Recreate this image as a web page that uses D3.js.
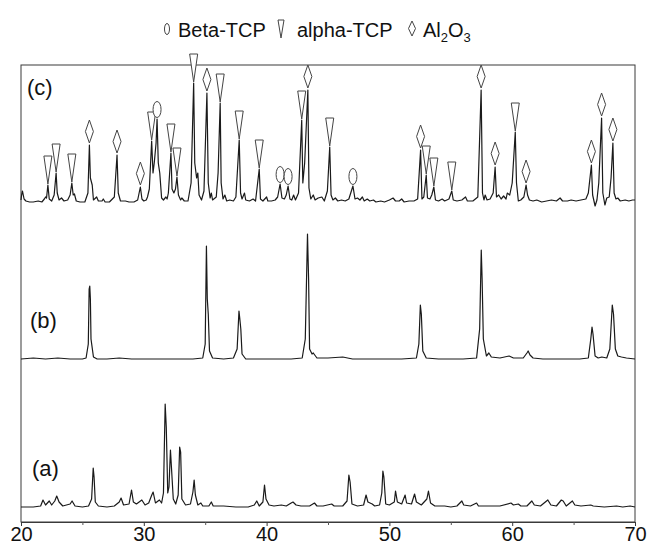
<!DOCTYPE html>
<html><head><meta charset="utf-8">
<script src="https://cdn.jsdelivr.net/npm/d3@7"></script>
<style>body{margin:0;background:#fff}</style>
</head><body>
<svg id="chart" width="651" height="549"></svg>
<script>
// ---------- data ----------
const xTicks = [20, 30, 40, 50, 60, 70];
const xMinorTicks = [25, 35, 45, 55, 65];
const traceLabels = ["(a)", "(b)", "(c)"];
const legendLabels = ["Beta-TCP", "alpha-TCP", "Al2O3"];

// trace (a) : [2theta, intensity a.u.]
const traceA = [[20,0],[21,0],[21.6,1],[21.79,7],[22.0,2],[22.3,6],[22.5,2],[22.75,6],[22.91,11],[23.1,5],[23.4,1],[24.0,3],[24.16,6],[24.4,1],[25.0,0],[25.5,1],[25.75,8],[25.88,39],[25.95,30],[26.05,5],[26.3,1],[27,0],[27.6,1],[28.0,5],[28.15,9],[28.35,2],[28.8,3],[29.0,17],[29.15,5],[29.4,3],[29.84,7],[30.1,2],[30.4,4],[30.65,12],[30.76,15],[30.95,4],[31.27,7],[31.45,4],[31.6,14],[31.74,103],[31.83,80],[31.95,14],[32.05,20],[32.17,57],[32.25,40],[32.4,8],[32.6,3],[32.8,12],[32.92,60],[33.0,55],[33.1,8],[33.4,2],[33.8,3],[34.0,15],[34.1,27],[34.2,12],[34.4,2],[34.65,4],[34.8,1],[35.3,1],[35.5,5],[35.65,1],[36.5,1],[37.5,0],[38.5,0],[39.0,2],[39.2,6],[39.4,1],[39.7,5],[39.83,22],[39.95,8],[40.2,2],[40.6,1],[41.2,2],[41.6,1],[42.0,4],[42.15,5],[42.4,2],[42.8,1],[43.5,1],[43.9,4],[44.1,1],[44.6,1],[45.3,3],[45.5,1],[46.2,1],[46.55,6],[46.7,32],[46.8,25],[46.95,3],[47.4,1],[47.9,2],[48.1,12],[48.25,5],[48.6,3],[48.8,1],[49.2,2],[49.38,14],[49.47,36],[49.55,30],[49.7,3],[50.0,2],[50.4,5],[50.5,16],[50.65,5],[51.0,3],[51.28,12],[51.4,4],[51.8,3],[52.05,13],[52.2,5],[52.6,2],[53.05,8],[53.18,16],[53.35,4],[53.7,1],[54.5,1],[55.0,0],[55.5,1],[55.9,6],[56.05,2],[56.6,1],[57.1,4],[57.25,1],[58,1],[59,1],[59.9,4],[60.1,2],[60.5,3],[60.7,1],[61.2,1],[61.6,6],[61.8,2],[62.3,1],[62.9,7],[63.15,2],[63.6,1],[64.0,7],[64.15,6],[64.4,1],[64.9,6],[65.1,2],[65.6,1],[66.4,2],[66.6,1],[67.5,0],[68.5,1],[69.0,0],[69.6,1],[70,0]];

// trace (b)
const traceB = [[20,0],[21,1],[22,0],[23,1],[24,0],[25,0],[25.3,1],[25.48,15],[25.55,70],[25.6,73],[25.65,60],[25.7,20],[25.9,2],[26.2,0],[27,0],[28,1],[29,0],[30,0],[31,0],[32,0],[33,0],[34,0],[34.8,1],[35.0,15],[35.1,113],[35.17,60],[35.25,45],[35.35,8],[35.6,1],[36.5,0],[37.3,1],[37.6,10],[37.75,48],[37.82,40],[37.9,30],[38.0,5],[38.3,0],[39,0],[40,0],[41,0],[42,0],[42.9,1],[43.15,20],[43.33,125],[43.42,80],[43.5,10],[43.7,5],[43.8,6],[44.1,1],[45,1],[46.2,2],[47,0],[48,0],[49,0],[50,0],[51,0],[52.2,1],[52.4,15],[52.52,54],[52.6,45],[52.72,8],[53,1],[54,0],[55,0],[56,0],[57.1,1],[57.35,30],[57.48,109],[57.55,80],[57.65,20],[57.9,3],[58.1,6],[58.3,2],[59,1],[59.75,3],[60.1,1],[60.9,1],[61.2,6],[61.3,8],[61.45,4],[61.7,1],[62.5,0],[63.5,0],[64.5,0],[65.5,0],[66.2,1],[66.4,20],[66.5,32],[66.58,25],[66.75,3],[67,1],[67.3,2],[67.7,1],[67.95,10],[68.15,54],[68.25,45],[68.4,10],[68.6,3],[68.9,2],[69.3,1],[70,0]];

// trace (c)
const traceC = [[20,3],[20.05,8],[20.12,12],[20.25,4],[20.4,2],[20.7,1],[21.0,1],[21.4,2],[21.7,1],[21.9,4],[22.0,6],[22.08,5],[22.19,18],[22.3,4],[22.5,2],[22.7,8],[22.86,30],[22.95,10],[23.1,3],[23.3,5],[23.5,2],[23.8,3],[24.0,8],[24.14,20],[24.25,8],[24.35,9],[24.5,2],[24.8,1],[25.2,1],[25.45,10],[25.57,58],[25.65,25],[25.8,18],[25.9,3],[26.16,6],[26.3,2],[26.6,2],[26.7,4],[26.85,1],[27.2,1],[27.6,6],[27.82,48],[27.92,10],[28.1,2],[28.5,2],[28.8,1],[29.2,1],[29.5,3],[29.72,16],[29.85,4],[30.0,2],[30.2,3],[30.3,6],[30.45,14],[30.64,62],[30.75,30],[30.85,40],[31.0,60],[31.08,84],[31.18,40],[31.3,30],[31.45,5],[31.6,3],[31.8,6],[31.9,4],[32.0,10],[32.21,50],[32.3,14],[32.45,10],[32.58,14],[32.7,26],[32.82,8],[33.0,3],[33.1,5],[33.3,2],[33.6,2],[33.85,20],[34.06,120],[34.15,40],[34.3,25],[34.4,30],[34.5,8],[34.7,3],[34.9,12],[35.14,110],[35.25,20],[35.4,5],[35.5,10],[35.6,3],[35.9,6],[36.05,30],[36.22,100],[36.3,20],[36.45,4],[36.6,8],[36.75,2],[37.0,3],[37.3,2],[37.5,6],[37.77,63],[37.88,10],[38.0,4],[38.2,10],[38.3,3],[38.6,2],[38.9,4],[39.1,2],[39.4,34],[39.5,4],[39.7,2],[40.0,6],[40.1,2],[40.4,2],[40.7,3],[40.9,6],[41.1,19],[41.25,5],[41.45,4],[41.6,8],[41.75,17],[41.9,4],[42.05,3],[42.2,8],[42.35,3],[42.6,10],[42.86,83],[42.95,20],[43.1,40],[43.36,113],[43.45,15],[43.6,4],[43.8,8],[43.95,3],[44.2,5],[44.5,6],[44.7,2],[44.95,12],[45.14,56],[45.25,8],[45.4,3],[45.6,5],[45.8,2],[46.1,3],[46.4,2],[46.7,4],[47.03,17],[47.2,4],[47.4,5],[47.6,3],[47.8,6],[47.95,2],[48.2,4],[48.4,2],[48.7,3],[48.9,1],[49.3,2],[49.6,1],[50.0,3],[50.3,5],[50.5,2],[50.8,2],[51.0,4],[51.2,1],[51.6,2],[52.0,2],[52.3,4],[52.54,53],[52.65,4],[52.8,6],[53.0,28],[53.1,5],[53.3,4],[53.45,8],[53.62,16],[53.75,3],[54.0,2],[54.3,4],[54.5,2],[54.85,4],[55.08,12],[55.2,3],[55.5,2],[55.9,3],[56.2,6],[56.35,2],[56.8,2],[57.2,6],[57.47,113],[57.58,10],[57.7,3],[57.8,8],[57.95,3],[58.2,4],[58.45,10],[58.61,36],[58.72,6],[58.9,8],[59.1,4],[59.3,7],[59.5,4],[59.6,10],[59.8,8],[60.0,20],[60.25,71],[60.35,20],[60.5,2],[60.7,3],[60.95,6],[61.13,18],[61.25,8],[61.4,3],[61.7,2],[62.0,3],[62.4,1],[62.8,2],[63.2,3],[63.6,2],[63.9,5],[64.1,2],[64.5,2],[64.8,3],[65.2,2],[65.6,3],[66.0,4],[66.2,10],[66.45,38],[66.55,8],[66.75,-3],[66.9,3],[67.05,20],[67.28,85],[67.38,10],[67.55,-2],[67.7,5],[67.9,6],[68.05,25],[68.2,60],[68.3,10],[68.45,4],[68.6,5],[68.8,2],[69.2,3],[69.5,2],[69.8,3],[70,3]];

// phase markers on trace (c): peak positions (2theta)
const betaMarks = [31.08, 41.1, 41.75, 47.03];
const alphaMarks = [22.19, 22.86, 24.14, 30.64, 32.21, 32.7, 34.06, 36.22, 37.77, 39.4, 42.86, 45.14, 53.0, 53.62, 55.08, 60.25];
const aluminaMarks = [25.57, 27.82, 29.72, 35.14, 43.36, 52.54, 57.47, 58.61, 61.13, 66.45, 67.28, 68.2];

// ---------- layout ----------
const W = 651, H = 549;
const L = 21, R = 635, T = 65, B = 522;
const FONT = "'Liberation Sans', Arial, Helvetica, sans-serif";
const ink = "#1a1a1a";

const svg = d3.select("#chart");
svg.append("rect").attr("width", W).attr("height", H).attr("fill", "#fff");

const x = d3.scaleLinear().domain([20, 70]).range([L, R]);
const y = d3.scaleLinear().domain([0, B - T]).range([B, T]);
const traceOffsets = [15, 163, 319];   // vertical stacking of (a), (b), (c)

// frame
svg.append("rect").attr("x", L).attr("y", T).attr("width", R - L).attr("height", B - T)
  .attr("fill", "none").attr("stroke", "#3a3a3a").attr("stroke-width", 1);

// x axis
const axis = d3.axisBottom(x).tickValues(xTicks).tickSize(4).tickFormat(d3.format("d"));
const gx = svg.append("g").attr("transform", `translate(0,${B})`).call(axis);
gx.select(".domain").attr("stroke", "#3a3a3a");
gx.selectAll(".tick line").attr("stroke", "#3a3a3a");
gx.selectAll(".tick text").attr("font-family", FONT).attr("font-size", 20).attr("fill", "#111").attr("dy", "0.62em");
const minor = d3.axisBottom(x).tickValues(xMinorTicks).tickSize(3).tickFormat("");
const gm = svg.append("g").attr("transform", `translate(0,${B})`).call(minor);
gm.select(".domain").remove();
gm.selectAll(".tick line").attr("stroke", "#555");

// traces
const traces = [traceA, traceB, traceC];
traces.forEach((tr, i) => {
  const off = traceOffsets[i];
  const line = d3.line().x(d => x(d[0])).y(d => y(d[1] + off));
  svg.append("path").datum(tr).attr("d", line)
    .attr("fill", "none").attr("stroke", ink).attr("stroke-width", 1.2).attr("stroke-linejoin", "round");
});

// trace labels
const labelPos = [[32, 476], [30, 328], [27, 95]];
traceLabels.forEach((t, i) => {
  svg.append("text").attr("x", labelPos[i][0]).attr("y", labelPos[i][1])
    .attr("font-family", FONT).attr("font-size", 22).attr("fill", "#111").text(t);
});

// markers
function peakTop(theta) {
  let best = null;
  traceC.forEach(p => { if (Math.abs(p[0] - theta) < 0.06 && (!best || p[1] > best[1])) best = p; });
  return y(best[1] + traceOffsets[2]);
}
const mstroke = "#444";
const mg = svg.append("g").attr("fill", "#fff").attr("stroke", mstroke).attr("stroke-width", 1);
alphaMarks.forEach(t => {
  const cx = x(t), tip = peakTop(t) - 1;
  mg.append("path").attr("d", `M${cx - 4},${tip - 28}L${cx + 4},${tip - 28}L${cx},${tip}Z`);
});
aluminaMarks.forEach(t => {
  const cx = x(t), tip = peakTop(t) - 2;
  mg.append("path").attr("d", `M${cx},${tip}L${cx + 4},${tip - 11.5}L${cx},${tip - 23}L${cx - 4},${tip - 11.5}Z`);
});
betaMarks.forEach(t => {
  const cx = x(t), tip = peakTop(t) - 1;
  mg.append("ellipse").attr("cx", cx).attr("cy", tip - 8.5).attr("rx", 4).attr("ry", 8);
});

// legend
const lg = svg.append("g");
const ly = 37;
lg.append("ellipse").attr("cx", 167).attr("cy", 29).attr("rx", 2.5).attr("ry", 5.5)
  .attr("fill", "#fff").attr("stroke", mstroke);
lg.append("text").attr("x", 178).attr("y", ly).attr("font-family", FONT).attr("font-size", 20).attr("fill", "#111").text(legendLabels[0]);
lg.append("path").attr("d", "M278,20L284,20L281,38Z").attr("fill", "#fff").attr("stroke", mstroke);
lg.append("text").attr("x", 297).attr("y", ly).attr("font-family", FONT).attr("font-size", 20).attr("fill", "#111").text(legendLabels[1]);
lg.append("path").attr("d", "M412,21L415.5,28.5L412,36L408.5,28.5Z").attr("fill", "#fff").attr("stroke", mstroke);
const al = lg.append("text").attr("x", 423).attr("y", ly).attr("font-family", FONT).attr("font-size", 20).attr("fill", "#111");
al.append("tspan").text("Al");
al.append("tspan").attr("font-size", 13).attr("dy", 5).text("2");
al.append("tspan").attr("dy", -5).text("O");
al.append("tspan").attr("font-size", 13).attr("dy", 5).text("3");
</script>
</body></html>
